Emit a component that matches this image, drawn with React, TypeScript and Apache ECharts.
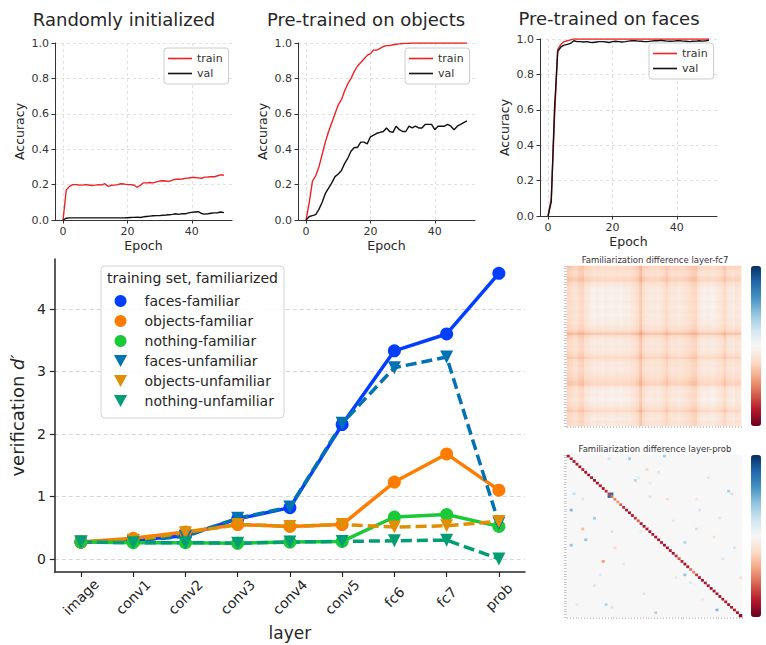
import React, { useEffect, useRef } from 'react';
import * as echarts from 'echarts';

const FONT = 'DejaVu Sans';

// ---------- top panels: accuracy per epoch (epoch = index) ----------
const randTrain = [0.00,0.17,0.19,0.20,0.20,0.198,0.197,0.20,0.198,0.195,
  0.197,0.20,0.198,0.205,0.19,0.196,0.197,0.20,0.205,0.203,
  0.20,0.20,0.198,0.185,0.195,0.21,0.21,0.212,0.21,0.215,
  0.22,0.222,0.22,0.218,0.225,0.23,0.23,0.232,0.235,0.237,
  0.24,0.24,0.238,0.236,0.242,0.243,0.245,0.244,0.25,0.255,0.254];
const randVal = [0.0,0.01,0.012,0.012,0.012,0.012,0.012,0.012,0.012,0.012,
  0.012,0.012,0.012,0.012,0.012,0.012,0.012,0.012,0.012,0.012,
  0.013,0.014,0.015,0.016,0.014,0.018,0.02,0.022,0.024,0.025,
  0.025,0.027,0.028,0.03,0.032,0.035,0.032,0.036,0.035,0.04,
  0.043,0.045,0.047,0.037,0.033,0.035,0.038,0.04,0.041,0.045,0.042];
const objTrain = [0.0,0.10,0.22,0.25,0.30,0.37,0.44,0.50,0.55,0.60,
  0.65,0.68,0.73,0.77,0.80,0.84,0.87,0.89,0.91,0.93,
  0.94,0.96,0.96,0.97,0.98,0.985,0.985,0.99,0.993,0.995,
  0.997,0.998,0.999,1,1,1,1,1,1,1,
  1,1,1,1,1,1,1,1,1,1,1];
const objVal = [0.0,0.02,0.025,0.03,0.06,0.10,0.15,0.18,0.21,0.245,
  0.26,0.28,0.32,0.35,0.39,0.41,0.41,0.44,0.44,0.43,
  0.47,0.48,0.49,0.495,0.50,0.52,0.50,0.495,0.53,0.51,
  0.50,0.50,0.53,0.52,0.53,0.52,0.52,0.54,0.54,0.54,
  0.51,0.53,0.53,0.53,0.54,0.53,0.51,0.53,0.54,0.55,0.56];
const faceTrain = [0.0,0.10,0.55,0.94,0.97,0.985,0.99,0.995,1,1,
  1,1,1,1,1,1,1,1,1,1,
  1,1,1,1,1,1,1,1,1,1,
  1,1,1,1,1,1,1,1,1,1,
  1,1,1,1,1,1,1,1,1,1,1];
const faceVal = [0.0,0.08,0.60,0.93,0.955,0.965,0.97,0.975,0.99,0.985,
  0.985,0.983,0.985,0.982,0.98,0.983,0.985,0.985,0.983,0.98,
  0.985,0.987,0.985,0.983,0.985,0.988,0.99,0.99,0.988,0.987,
  0.985,0.985,0.988,0.99,0.99,0.992,0.99,0.988,0.987,0.988,
  0.99,0.99,0.988,0.987,0.985,0.987,0.988,0.99,0.988,0.99,0.993];
const panelTitles = ['Randomly initialized', 'Pre-trained on objects', 'Pre-trained on faces'];
const accTicks = [0, 20, 40];

// ---------- main chart ----------
const layers = ['image', 'conv1', 'conv2', 'conv3', 'conv4', 'conv5', 'fc6', 'fc7', 'prob'];
const facesFamiliar = [0.27, 0.30, 0.37, 0.64, 0.82, 2.15, 3.33, 3.60, 4.57];
const objectsFamiliar = [0.27, 0.33, 0.43, 0.55, 0.52, 0.55, 1.23, 1.68, 1.10];
const nothingFamiliar = [0.27, 0.26, 0.26, 0.25, 0.27, 0.28, 0.67, 0.71, 0.52];
const facesUnfamiliar = [0.27, 0.29, 0.36, 0.65, 0.83, 2.17, 3.06, 3.23, 0.57];
const objectsUnfamiliar = [0.27, 0.30, 0.42, 0.55, 0.52, 0.55, 0.51, 0.53, 0.60];
const nothingUnfamiliar = [0.27, 0.26, 0.26, 0.25, 0.27, 0.28, 0.29, 0.30, 0.0];
const dTicks = [0, 1, 2, 3, 4];

// ---------- heatmaps ----------
const N = 60;
// darkness profile of rows/columns in the fc7 difference map
const fc7Profile = [0.10,0.08,0.05,0.06,0.10,0.11,0.05,0.04,0.02,0.01,
  0.02,0.01,0.00,0.02,0.01,0.00,0.01,0.02,0.00,0.01,
  0.02,0.01,0.03,0.04,0.08,0.16,0.07,0.04,0.03,0.02,
  0.03,0.02,0.04,0.06,0.10,0.05,0.03,0.04,0.02,0.03,
  0.04,0.05,0.07,0.10,0.11,0.04,0.02,0.01,0.02,0.01,
  0.00,0.02,0.03,0.05,0.10,0.04,0.03,0.02,0.04,0.03];
// lightness of the whiter blocks in the fc7 map
const fc7Light = [0.00,0.00,0.05,0.05,0.00,0.00,0.10,0.15,0.25,0.25,
  0.20,0.25,0.25,0.20,0.25,0.25,0.20,0.25,0.25,0.20,
  0.20,0.15,0.10,0.05,0.00,0.00,0.05,0.10,0.15,0.15,
  0.10,0.15,0.10,0.05,0.00,0.05,0.10,0.10,0.15,0.10,
  0.05,0.05,0.00,0.00,0.00,0.10,0.20,0.25,0.20,0.25,
  0.25,0.20,0.10,0.05,0.00,0.10,0.15,0.20,0.10,0.10];
const fc7Base = -0.09;
const probBase = 0.0;
const probDiag = [-0.85,-0.8,-0.85,-0.82,-0.85,-0.8,-0.85,-0.82,-0.8,-0.85,
  -0.83,-0.8,-0.85,-0.75,-0.7,-0.55,-0.5,-0.45,-0.6,-0.75,
  -0.8,-0.85,-0.82,-0.7,-0.6,-0.8,-0.85,-0.82,-0.85,-0.8,
  -0.85,-0.82,-0.8,-0.85,-0.83,-0.8,-0.85,-0.75,-0.65,-0.8,
  -0.85,-0.82,-0.55,-0.5,-0.7,-0.8,-0.85,-0.82,-0.8,-0.85,
  -0.83,-0.8,-0.85,-0.82,-0.8,-0.85,-0.82,-0.8,-0.85,-0.9];
// [column, row, value]
const probSpots = [
  [21,1,0.35],[14,1,0.18],[33,0,0.35],[27,5,-0.22],[31,6,0.15],[23,9,0.3],[24,8,0.12],
  [28,10,0.12],[55,13,0.32],[56,14,0.18],[15,14,0.75],[14,15,0.75],[2,14,0.25],[1,20,0.45],
  [5,16,0.15],[9,23,0.35],[34,16,-0.18],[28,15,0.15],[52,23,-0.18],[5,27,-0.32],[6,31,0.4],
  [1,33,0.4],[15,28,0.18],[16,34,-0.2],[12,39,-0.42],[40,32,0.3],[44,27,0.2],[40,44,0.4],
  [37,45,0.12],[50,30,-0.15],[59,45,-0.18],[9,48,0.18],[13,55,0.3],[15,56,0.18],[30,58,0.3],
  [51,57,0.45],[3,55,0.12],[42,47,0.18],[45,20,0.18],[25,28,0.12],[44,16,-0.12],[19,40,0.15],
  [36,24,0.12],[48,8,0.15],[57,34,0.18],[11,44,0.12],[26,51,0.15],[46,53,-0.12],[53,38,0.12]
];
const RDBU = ['#67001f','#b2182b','#d6604d','#f4a582','#fddbc7','#f7f7f7','#d1e5f0','#92c5de','#4393c3','#2166ac','#053061'];

const fc7Data: number[][] = [];
for (let i = 0; i < N; i++) for (let j = 0; j < N; j++) {
  fc7Data.push([j, i, fc7Base - fc7Profile[i] - fc7Profile[j] + fc7Light[i] * fc7Light[j]]);
}
const probMatrix: number[][] = [];
for (let i = 0; i < N; i++) { probMatrix.push([]); for (let j = 0; j < N; j++) probMatrix[i].push(i === j ? probDiag[i] : probBase); }
probSpots.forEach(([c, r, v]) => { probMatrix[r][c] = v; });
const probData: number[][] = [];
for (let i = 0; i < N; i++) for (let j = 0; j < N; j++) probData.push([j, i, probMatrix[i][j]]);
const cellNames = Array.from({ length: N }, (_, k) => String(k));

const TRI_DOWN = 'path://M0,0 L12,0 L6,11 Z';
const LINE_ICON = 'path://M0,0 L24,0 L24,1.6 L0,1.6 Z';

function buildOption() {
  const trains = [randTrain, objTrain, faceTrain];
  const vals = [randVal, objVal, faceVal];
  const layout = [
    { left: 55, top: 43, lgL: 164, lgT: 48, tx: 124, ty: 19.5 },
    { left: 298, top: 43, lgL: 405, lgT: 48, tx: 366, ty: 19.5 },
    { left: 540, top: 39, lgL: 649, lgT: 43, tx: 609, ty: 18.5 },
  ];
  const grids: any[] = [];
  const xAxes: any[] = [];
  const yAxes: any[] = [];
  const series: any[] = [];
  const legends: any[] = [];
  const graphics: any[] = [];
  const axisCol = '#333';

  layout.forEach((L, i) => {
    grids.push({ left: L.left, top: L.top, width: 177, height: 177 });
    xAxes.push({
      type: 'value', gridIndex: i, min: -2.5, max: 52.5,
      name: 'Epoch', nameLocation: 'middle', nameGap: 19,
      nameTextStyle: { fontSize: 12.5, color: '#262626', fontFamily: FONT },
      axisLine: { show: true, onZero: false, lineStyle: { color: axisCol, width: 1 } },
      axisTick: { show: true, length: 3.5, customValues: accTicks, lineStyle: { color: axisCol } },
      axisLabel: { customValues: accTicks, fontSize: 11, color: '#333', margin: 6, fontFamily: FONT },
      splitLine: { show: true, lineStyle: { type: [3, 3], color: '#dadada', width: 0.8 } },
    });
    yAxes.push({
      type: 'value', gridIndex: i, min: 0, max: 1, interval: 0.2,
      name: 'Accuracy', nameLocation: 'middle', nameGap: 29,
      nameTextStyle: { fontSize: 12.5, color: '#262626', fontFamily: FONT },
      axisLine: { show: true, onZero: false, lineStyle: { color: axisCol, width: 1 } },
      axisTick: { show: true, length: 3.5, lineStyle: { color: axisCol } },
      axisLabel: { fontSize: 11, color: '#333', margin: 6, fontFamily: FONT, formatter: (v: number) => v.toFixed(1) },
      splitLine: { show: true, lineStyle: { type: [3, 3], color: '#dadada', width: 0.8 } },
    });
    series.push({
      name: 'train', type: 'line', xAxisIndex: i, yAxisIndex: i, showSymbol: false, symbol: 'none',
      data: trains[i].map((v, e) => [e, v]), color: '#ec2227', lineStyle: { width: 1.4, color: '#ec2227' },
    });
    series.push({
      name: 'val', type: 'line', xAxisIndex: i, yAxisIndex: i, showSymbol: false, symbol: 'none',
      data: vals[i].map((v, e) => [e, v]), color: '#111', lineStyle: { width: 1.4, color: '#111' },
    });
    legends.push({
      left: L.lgL, top: L.lgT, orient: 'vertical', itemWidth: 24, itemHeight: 10, itemGap: 4,
      padding: [5, 6, 5, 4], borderColor: '#cccccc', borderWidth: 1, borderRadius: 3,
      backgroundColor: 'rgba(255,255,255,0.85)', selectedMode: false,
      textStyle: { fontSize: 11, color: '#333', fontFamily: FONT },
      data: [{ name: 'train', icon: LINE_ICON }, { name: 'val', icon: LINE_ICON }],
    });
    graphics.push({
      type: 'text', x: L.tx, y: L.ty,
      style: { text: panelTitles[i], fontSize: 18, fontFamily: FONT, fill: '#262626', align: 'center', verticalAlign: 'middle' },
    });
  });

  // main chart (grid 3)
  grids.push({ left: 53, top: 259, width: 472, height: 313 });
  xAxes.push({
    type: 'category', gridIndex: 3, data: layers, boundaryGap: true,
    name: 'layer', nameLocation: 'middle', nameGap: 52,
    nameTextStyle: { fontSize: 17, color: '#262626', fontFamily: FONT },
    axisLine: { show: true, onZero: false, lineStyle: { color: '#262626', width: 1.5 } },
    axisTick: { show: true, alignWithLabel: true, length: 5, lineStyle: { color: '#262626', width: 1.2 } },
    axisLabel: { rotate: 45, align: 'center', verticalAlign: 'middle', margin: 25, fontSize: 14, color: '#262626', fontFamily: FONT, interval: 0 },
    splitLine: { show: false },
  });
  yAxes.push({
    type: 'value', gridIndex: 3, min: -0.21, max: 4.8,
    name: 'verification {i|d′}', nameLocation: 'middle', nameGap: 25,
    nameTextStyle: { fontSize: 18, color: '#262626', fontFamily: FONT, rich: { i: { fontSize: 18, fontStyle: 'italic', fontFamily: FONT, color: '#262626' } } },
    axisLine: { show: true, onZero: false, lineStyle: { color: '#262626', width: 1.5 } },
    axisTick: { show: true, length: 5, customValues: dTicks, lineStyle: { color: '#262626', width: 1.2 } },
    axisLabel: { customValues: dTicks, fontSize: 14, color: '#262626', margin: 9, fontFamily: FONT },
    splitLine: { show: true, lineStyle: { type: [4, 3], color: '#d6d6d6', width: 1 } },
  });
  const mainDefs = [
    { name: 'faces-familiar', data: facesFamiliar, color: '#023eff', fam: true },
    { name: 'objects-familiar', data: objectsFamiliar, color: '#ff7c00', fam: true },
    { name: 'nothing-familiar', data: nothingFamiliar, color: '#1ac938', fam: true },
    { name: 'faces-unfamiliar', data: facesUnfamiliar, color: '#0173b2', fam: false },
    { name: 'objects-unfamiliar', data: objectsUnfamiliar, color: '#de8f05', fam: false },
    { name: 'nothing-unfamiliar', data: nothingUnfamiliar, color: '#029e73', fam: false },
  ];
  mainDefs.forEach((d) => {
    series.push({
      name: d.name, type: 'line', xAxisIndex: 3, yAxisIndex: 3, data: d.data,
      color: d.color, symbol: d.fam ? 'circle' : 'triangle', symbolRotate: d.fam ? 0 : 180,
      symbolSize: 13, showSymbol: true,
      itemStyle: { color: d.color, borderWidth: 0 },
      lineStyle: { width: 3.5, color: d.color, type: d.fam ? 'solid' : [11, 5] },
    });
  });
  legends.push({
    orient: 'vertical', left: 109, top: 289, itemWidth: 38, itemHeight: 12, itemGap: 6,
    selectedMode: false, textStyle: { fontSize: 14, color: '#262626', fontFamily: FONT },
    data: mainDefs.map((d) => ({ name: d.name, icon: d.fam ? 'circle' : TRI_DOWN })),
  });
  graphics.push({
    type: 'rect', z: 3, shape: { x: 101, y: 266, width: 183, height: 152, r: 4 },
    style: { fill: 'rgba(255,255,255,0.85)', stroke: '#d4d4d4', lineWidth: 1 },
  });
  graphics.push({
    type: 'text', z: 5, x: 192.5, y: 278,
    style: { text: 'training set, familiarized', fontSize: 14, fontFamily: FONT, fill: '#262626', align: 'center', verticalAlign: 'middle' },
  });

  // heatmaps (grids 4, 5)
  const hm = [
    { left: 567, top: 266, width: 174, height: 160, data: fc7Data, title: 'Familiarization difference layer-fc7', ty: 260 },
    { left: 567, top: 455, width: 175, height: 162, data: probData, title: 'Familiarization difference layer-prob', ty: 449 },
  ];
  const vms: any[] = [];
  hm.forEach((h, k) => {
    const gi = 4 + k;
    grids.push({ left: h.left, top: h.top, width: h.width, height: h.height });
    xAxes.push({
      type: 'category', gridIndex: gi, data: cellNames, boundaryGap: true,
      axisLine: { show: false }, axisLabel: { show: false },
      axisTick: { show: true, length: 2, interval: 0, lineStyle: { color: '#c8c8c8', width: 1 } },
      splitLine: { show: false },
    });
    yAxes.push({
      type: 'category', gridIndex: gi, data: cellNames, inverse: true, boundaryGap: true,
      axisLine: { show: false }, axisLabel: { show: false },
      axisTick: { show: true, length: 3, interval: 0, lineStyle: { color: '#c8c8c8', width: 1 } },
      splitLine: { show: false },
    });
    series.push({
      type: 'heatmap', name: h.title, xAxisIndex: gi, yAxisIndex: gi, data: h.data,
      progressive: 0, emphasis: { disabled: true }, itemStyle: { borderWidth: 0 },
    });
    vms.push({
      type: 'continuous', min: -1, max: 1, seriesIndex: series.length - 1, dimension: 2,
      left: 751, top: h.top, itemWidth: 10, itemHeight: h.height, padding: 0,
      calculable: false, hoverLink: false, inRange: { color: RDBU },
    });
    graphics.push({
      type: 'text', x: 655, y: h.ty,
      style: { text: h.title, fontSize: 8.5, fontFamily: FONT, fill: '#333', align: 'center', verticalAlign: 'middle' },
    });
  });

  return {
    animation: false,
    backgroundColor: '#ffffff',
    textStyle: { fontFamily: FONT },
    grid: grids,
    xAxis: xAxes,
    yAxis: yAxes,
    legend: legends,
    visualMap: vms,
    series,
    graphic: { elements: graphics },
  };
}

export default function App() {
  const ref = useRef<HTMLDivElement>(null);
  useEffect(() => {
    if (!ref.current) return;
    const chart = echarts.init(ref.current, null, { renderer: 'svg' });
    chart.setOption(buildOption() as any);
    return () => chart.dispose();
  }, []);
  return (
    <div
      ref={ref}
      style={{ position: 'absolute', left: 0, top: 0, width: 766, height: 645, background: '#fff' }}
    />
  );
}
